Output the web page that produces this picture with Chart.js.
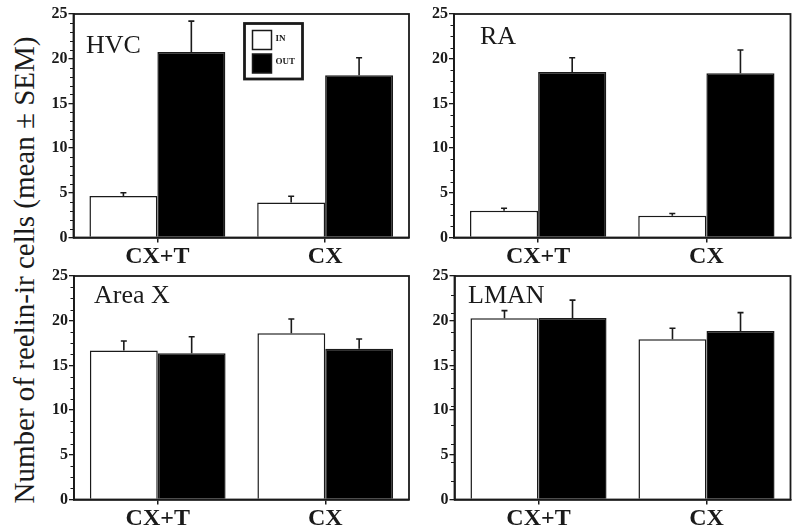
<!DOCTYPE html>
<html>
<head>
<meta charset="utf-8">
<script src="https://cdn.jsdelivr.net/npm/chart.js@4.4.1/dist/chart.umd.min.js"></script>
<style>
  html, body { margin: 0; padding: 0; background: #fff; }
  body { width: 800px; height: 532px; position: relative; overflow: hidden; }
  canvas { position: absolute; }
  #ytitle {
    position: absolute; left: 24px; top: 270px;
    transform: translate(-50%, -50%) rotate(-90deg);
    white-space: nowrap; font-family: "Liberation Serif", "DejaVu Serif", serif;
    font-size: 29px; color: #1a1a1a;
  }
</style>
</head>
<body>
<div id="ytitle">Number of reelin-ir cells (mean ± SEM)</div>
<canvas id="c1" width="420" height="270" style="left:0px;top:0px"></canvas>
<canvas id="c2" width="420" height="270" style="left:380px;top:0px"></canvas>
<canvas id="c3" width="420" height="270" style="left:0px;top:262px"></canvas>
<canvas id="c4" width="420" height="270" style="left:380px;top:262px"></canvas>
<script>
// ---- data ----
const categories = ['CX+T', 'CX'];
const seriesNames = ['IN', 'OUT'];
const yTicks = [0, 5, 10, 15, 20, 25];

const hvcIn = [4.65, 3.92];
const hvcInErr = [0.35, 0.70];
const hvcOut = [20.75, 18.15];
const hvcOutErr = [3.45, 1.95];

const raIn = [2.98, 2.42];
const raInErr = [0.30, 0.26];
const raOut = [18.5, 18.37];
const raOutErr = [1.6, 2.6];

const areaXIn = [16.68, 18.59];
const areaXInErr = [1.05, 1.6];
const areaXOut = [16.35, 16.87];
const areaXOutErr = [1.85, 1.08];

const lmanIn = [20.27, 17.92];
const lmanInErr = [0.86, 1.23];
const lmanOut = [20.3, 18.85];
const lmanOutErr = [2.0, 2.05];

// ---- styling ----
const SERIF = '"Liberation Serif", "DejaVu Serif", serif';
const INK = '#1a1a1a';

const framePlugin = {
  id: 'frame',
  afterDatasetsDraw(chart, args, o) {
    const ctx = chart.ctx, a = chart.chartArea, y = chart.scales.y;
    ctx.save();
    // error bars
    chart.data.datasets.forEach((ds, i) => {
      const meta = chart.getDatasetMeta(i);
      meta.data.forEach((bar, j) => {
        const v = ds.data[j], e = ds.errors[j];
        const y0 = y.getPixelForValue(v), y1 = y.getPixelForValue(v + e);
        ctx.strokeStyle = INK; ctx.lineWidth = 1.6;
        ctx.beginPath();
        ctx.moveTo(bar.x, y0); ctx.lineTo(bar.x, y1);
        ctx.moveTo(bar.x - 3, y1); ctx.lineTo(bar.x + 3, y1);
        ctx.stroke();
      });
    });
    // frame
    ctx.strokeStyle = INK; ctx.lineWidth = 1.8;
    ctx.strokeRect(a.left, a.top, a.right - a.left, a.bottom - a.top);
    // minor ticks
    const step = o.minorStep;
    ctx.lineWidth = 1.2;
    ctx.beginPath();
    for (let k = 1; k * step < 25 - 1e-6; k++) {
      const v = k * step;
      if (Math.abs(v / 5 - Math.round(v / 5)) < 1e-6) continue;
      const py = Math.round(y.getPixelForValue(v)) + 0.5;
      ctx.moveTo(a.left - 3.5, py); ctx.lineTo(a.left, py);
    }
    ctx.stroke();
    // panel label
    ctx.fillStyle = INK;
    ctx.font = '26px ' + SERIF;
    ctx.textAlign = 'left'; ctx.textBaseline = 'alphabetic';
    ctx.fillText(o.label, o.lx, o.ly);
    // legend
    if (o.legend) {
      const L = o.legend;
      ctx.lineWidth = 2.8;
      ctx.strokeRect(L.x, L.y, L.w, L.h);
      chart.data.datasets.forEach((ds, i) => {
        const bx = L.x + 8, by = L.y + 7 + i * 23.5;
        ctx.fillStyle = ds.backgroundColor;
        ctx.fillRect(bx, by, 19, 19);
        ctx.lineWidth = 1.5; ctx.strokeStyle = INK;
        ctx.strokeRect(bx, by, 19, 19);
        ctx.fillStyle = INK;
        ctx.font = 'bold 9px ' + SERIF;
        ctx.textBaseline = 'middle';
        ctx.fillText(ds.label, bx + 23, by + 8);
      });
    }
    ctx.restore();
  }
};

function makePanel(id, label, inV, inE, outV, outE, cfg) {
  return new Chart(document.getElementById(id), {
    type: 'bar',
    data: {
      labels: categories,
      datasets: [
        { label: seriesNames[0], data: inV, errors: inE, backgroundColor: '#ffffff',
          borderColor: INK, borderWidth: 1.5, borderSkipped: 'bottom',
          categoryPercentage: 0.81, barPercentage: 1.0 },
        { label: seriesNames[1], data: outV, errors: outE, backgroundColor: '#000000',
          borderColor: INK, borderWidth: 1.5, borderSkipped: 'bottom',
          categoryPercentage: 0.81, barPercentage: 1.0 }
      ]
    },
    options: {
      responsive: false, animation: false, devicePixelRatio: 1,
      layout: { padding: { top: 14, right: cfg.padRight, left: 0, bottom: 0 } },
      plugins: {
        legend: { display: false }, tooltip: { enabled: false },
        frame: { label: label, lx: cfg.lx, ly: cfg.ly, minorStep: cfg.minorStep, legend: cfg.legend }
      },
      scales: {
        x: {
          grid: { offset: false, drawOnChartArea: false, drawTicks: true, tickLength: 5, color: INK, lineWidth: 1.5 },
          border: { display: true, color: INK, width: 1.8 },
          ticks: { color: INK, font: { family: SERIF, size: 24, weight: 'bold' }, padding: 0, maxRotation: 0 },
          afterFit(s) { s.height = 32.5; }
        },
        y: {
          min: 0, max: 25,
          afterBuildTicks(s) { s.ticks = yTicks.map(v => ({ value: v })); },
          grid: { drawOnChartArea: false, drawTicks: true, tickLength: 5, color: INK, lineWidth: 1.3 },
          border: { display: true, color: INK, width: 1.8 },
          ticks: { color: INK, font: { family: SERIF, size: 16, weight: 'bold' }, padding: 1 },
          afterFit(s) { s.width = cfg.left; }
        }
      }
    },
    plugins: [framePlugin]
  });
}

makePanel('c1', 'HVC', hvcIn, hvcInErr, hvcOut, hvcOutErr,
  { left: 73.5, padRight: 11, lx: 86, ly: 52.5, minorStep: 1,
    legend: { x: 244.5, y: 23.5, w: 58, h: 55.5 } });
makePanel('c2', 'RA', raIn, raInErr, raOut, raOutErr,
  { left: 74, padRight: 9.5, lx: 100, ly: 43.5, minorStep: 1.25 });
makePanel('c3', 'Area X', areaXIn, areaXInErr, areaXOut, areaXOutErr,
  { left: 74, padRight: 11, lx: 94, ly: 40.5, minorStep: 1.25 });
makePanel('c4', 'LMAN', lmanIn, lmanInErr, lmanOut, lmanOutErr,
  { left: 74.5, padRight: 9.5, lx: 88, ly: 40.5, minorStep: 25 / 12 });
</script>
</body>
</html>
